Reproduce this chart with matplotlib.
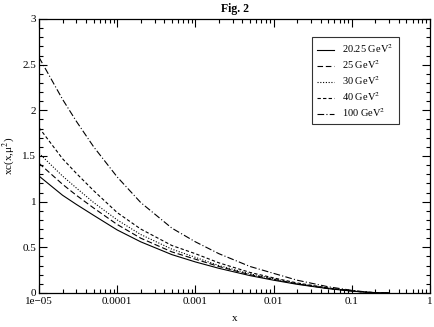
import matplotlib
matplotlib.use("Agg")
import matplotlib.pyplot as plt
from matplotlib.ticker import FixedLocator, LogLocator, MultipleLocator, NullFormatter

# momentum fraction grid
x_vals = [1e-5, 2e-5, 3e-5, 5e-5, 1e-4, 2e-4, 5e-4, 1e-3, 2e-3, 5e-3,
          1e-2, 2e-2, 5e-2, 0.1, 0.15, 0.2, 0.3]

# xc(x, mu^2) for each scale
xc_20 = [1.28, 1.07, 0.97, 0.85, 0.69, 0.56, 0.42, 0.34, 0.27, 0.19,
         0.14, 0.095, 0.047, 0.021, 0.009, 0.003, 0.0]
xc_25 = [1.42, 1.19, 1.07, 0.93, 0.75, 0.60, 0.45, 0.37, 0.29, 0.20,
         0.15, 0.10, 0.05, 0.022, 0.009, 0.003, 0.0]
xc_30 = [1.53, 1.28, 1.15, 0.99, 0.80, 0.64, 0.48, 0.39, 0.30, 0.21,
         0.155, 0.104, 0.052, 0.023, 0.009, 0.003, 0.0]
xc_40 = [1.81, 1.47, 1.31, 1.12, 0.88, 0.70, 0.52, 0.43, 0.33, 0.225,
         0.165, 0.11, 0.055, 0.024, 0.010, 0.003, 0.0]
xc_100 = [2.58, 2.12, 1.88, 1.60, 1.27, 0.99, 0.71, 0.56, 0.43, 0.29,
          0.215, 0.14, 0.068, 0.029, 0.012, 0.004, 0.0]

labels = ["20.25 GeV$^2$", "25 GeV$^2$", "30 GeV$^2$", "40 GeV$^2$", "100 GeV$^2$"]
series = [xc_20, xc_25, xc_30, xc_40, xc_100]
styles = ["-", (0, (5, 2.5)), (0, (1, 1.5)), (0, (3, 2)), (0, (6, 2, 1, 2))]

x_ticks = [1e-5, 1e-4, 1e-3, 1e-2, 1e-1, 1]
x_ticklabels = ["1e\u221205", "0.0001", "0.001", "0.01", "0.1", "1"]

plt.rcParams["font.family"] = ["Liberation Serif", "DejaVu Serif"]
plt.rcParams["mathtext.fontset"] = "stix"

fig = plt.figure(figsize=(4.34, 3.27), dpi=100)
ax = fig.add_axes([0.0899, 0.104, 0.9009, 0.838])

for ys, ls, lab in zip(series, styles, labels):
    ax.plot(x_vals, ys, color="black", linestyle=ls, linewidth=0.8, label=lab)

ax.set_xscale("log")
ax.set_xlim(1e-5, 1)
ax.set_ylim(0, 3)

ax.xaxis.set_major_locator(FixedLocator(x_ticks))
ax.set_xticklabels(x_ticklabels)
ax.xaxis.set_minor_locator(LogLocator(base=10, subs=range(2, 10)))
ax.xaxis.set_minor_formatter(NullFormatter())
ax.yaxis.set_minor_locator(MultipleLocator(0.1))
ax.set_yticks([0, 0.5, 1, 1.5, 2, 2.5, 3])
ax.set_yticklabels(["0", "0.5", "1", "1.5", "2", "2.5", "3"])

ax.tick_params(which="both", direction="in", top=True, right=True, labelsize=8, width=0.8)
ax.tick_params(axis="x", pad=3)
ax.tick_params(axis="y", pad=2)
ax.tick_params(which="major", length=6)
ax.tick_params(which="minor", length=3)
for sp in ax.spines.values():
    sp.set_linewidth(0.9)

ax.set_xlabel("x", fontsize=8, labelpad=6)
ax.set_ylabel("xc(x,\u03bc$^2$)", fontsize=8, labelpad=4)
ax.set_title("Fig. 2", fontsize=8.5, fontweight="bold", pad=5)

leg = ax.legend(loc="upper left", bbox_to_anchor=(0.698, 0.934), borderaxespad=0,
                fontsize=7.5, frameon=True, fancybox=False, edgecolor="black",
                handlelength=1.6, borderpad=0.5, labelspacing=0.3, handletextpad=0.8)
leg.get_frame().set_linewidth(0.8)

fig.savefig("out.png", dpi=100)
